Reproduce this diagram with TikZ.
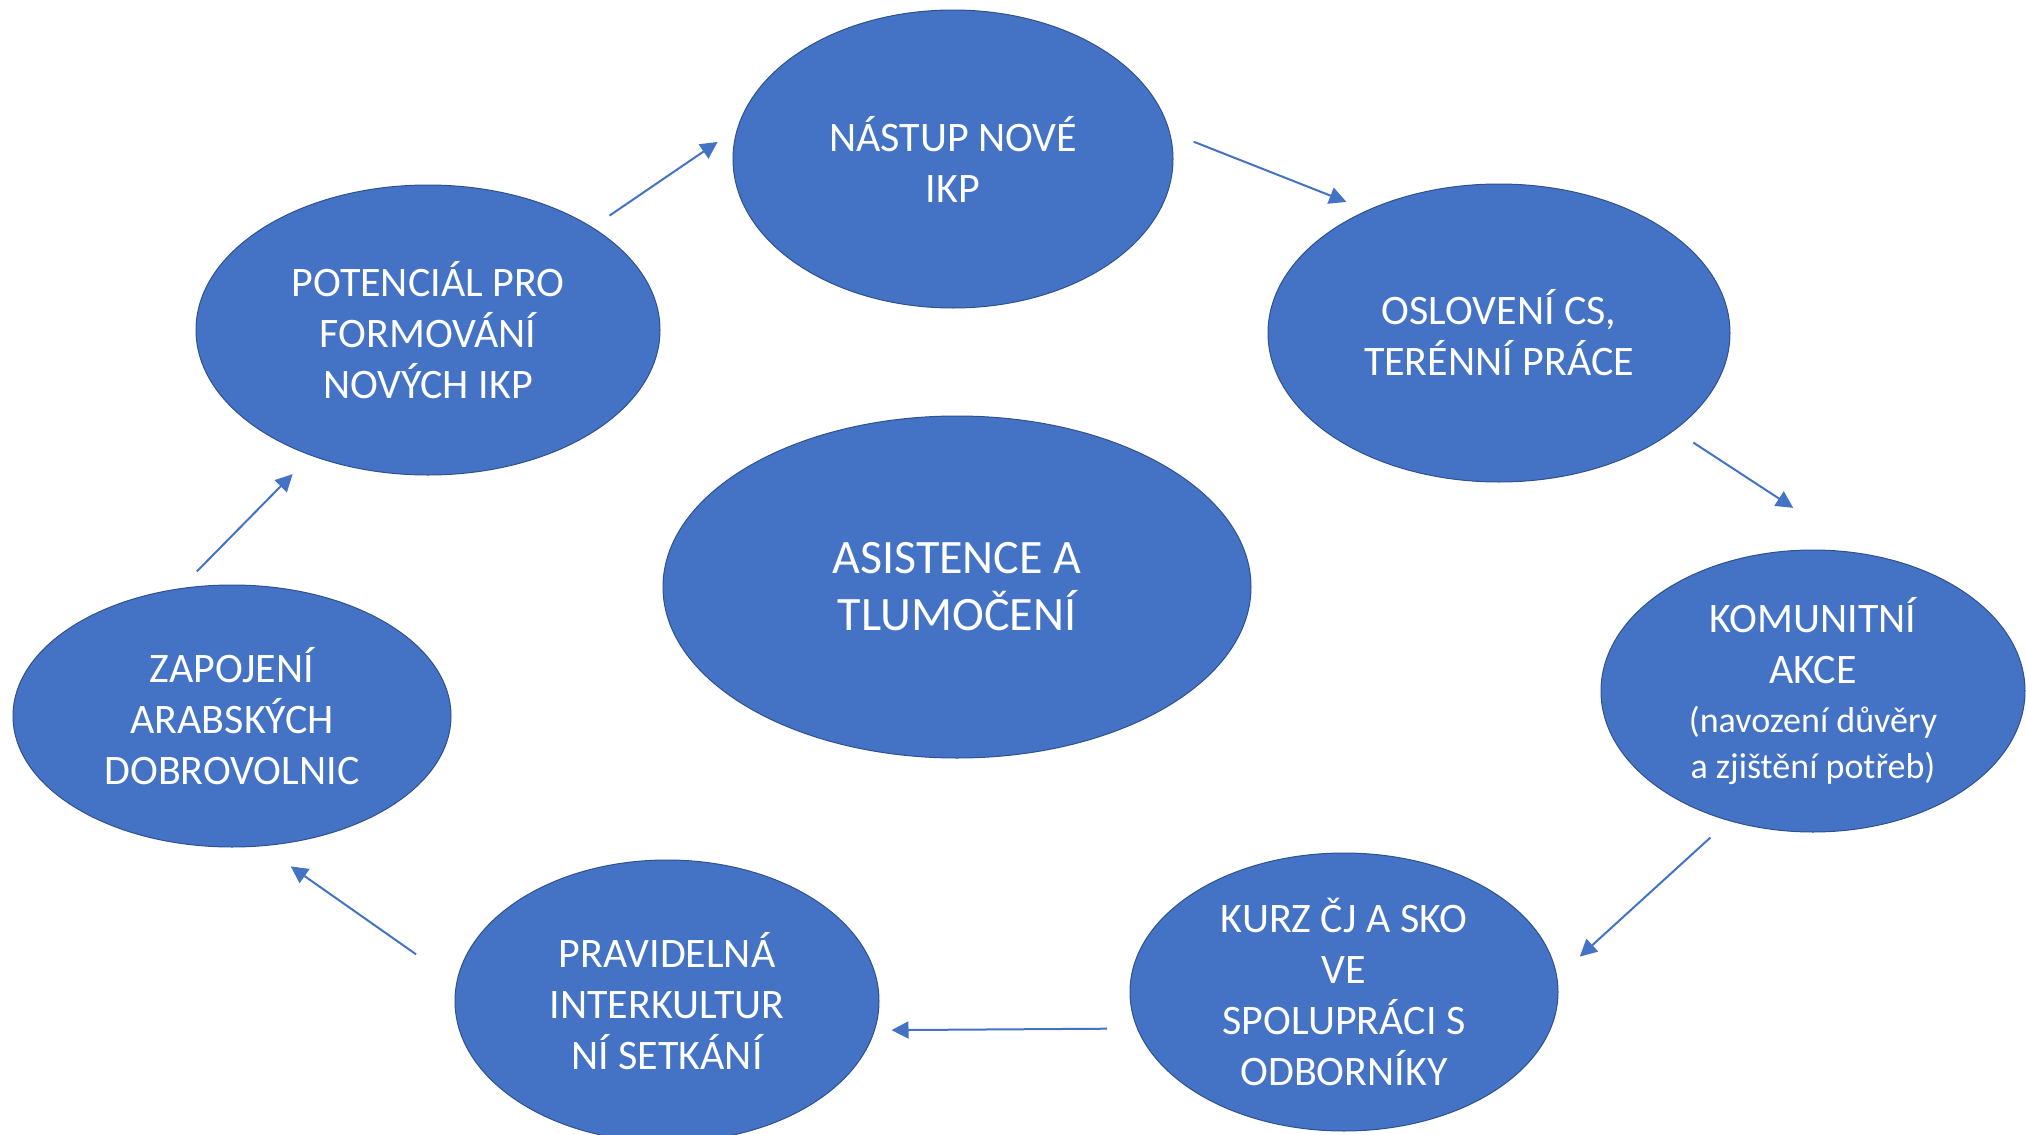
\documentclass[tikz,border=0pt]{standalone}
\usepackage{fontspec}
\setmainfont{Carlito}
\usetikzlibrary{shapes.geometric}
\usetikzlibrary{arrows.meta}
\definecolor{ikpblue}{RGB}{68,114,196}
\definecolor{ikpedge}{RGB}{47,82,143}

\begin{document}
\begin{tikzpicture}[x=0.5pt,y=0.5pt,yscale=-1,xscale=1,
  stage/.style={ellipse,fill=ikpblue,draw=ikpedge,line width=0.5pt,inner sep=0pt,text=white,align=center,font=\fontsize{21}{25.5}\selectfont},
  flow/.style={draw=ikpblue,line width=1pt,-{Triangle[length=8.5pt,width=8.5pt]}}]
\useasboundingbox (0,0) rectangle (2026,1135);

% Ellipse Node
\node [stage,minimum width=220pt,minimum height=149pt] (nastup) at (953,159) {NÁSTUP NOVÉ\\IKP};
% Ellipse Node
\node [stage,minimum width=231pt,minimum height=149pt] (osloveni) at (1499,333) {OSLOVENÍ CS,\\TERÉNNÍ PRÁCE};
% Ellipse Node
\node [stage,minimum width=212pt,minimum height=141pt] (komunit) at (1813,691) {KOMUNITNÍ\\AKCE\\[-1pt]{\fontsize{18}{22}\selectfont (navození důvěry}\\[-2.5pt]{\fontsize{18}{22}\selectfont a zjištění potřeb)}};
% Ellipse Node
\node [stage,minimum width=214pt,minimum height=139pt] (kurz) at (1344,992) {KURZ ČJ A SKO\\VE\\SPOLUPRÁCI S\\ODBORNÍKY};
% Ellipse Node
\node [stage,minimum width=212pt,minimum height=141pt] (pravid) at (667,1001) {PRAVIDELNÁ\\INTERKULTUR\\NÍ SETKÁNÍ};
% Ellipse Node
\node [stage,minimum width=219pt,minimum height=131pt] (zapojeni) at (232,716) {ZAPOJENÍ\\ARABSKÝCH\\DOBROVOLNIC};
% Ellipse Node
\node [stage,minimum width=232pt,minimum height=145pt] (potencial) at (428,330) {POTENCIÁL PRO\\FORMOVÁNÍ\\NOVÝCH IKP};
% Ellipse Node
\node [stage,minimum width=294pt,minimum height=171pt,font=\fontsize{24}{28.5}\selectfont] (asistence) at (957,587) {ASISTENCE A\\TLUMOČENÍ};

% Connection
\draw [flow,shorten <=10.3pt,shorten >=11.8pt] (potencial.32.7) -- (nastup.172.1);
% Connection
\draw [flow,shorten <=12.8pt,shorten >=11.2pt] (nastup.7) -- (osloveni.137.6);
% Connection
\draw [flow,shorten <=11.1pt,shorten >=41.7pt] (osloveni.331.1) -- (komunit.70.1);
% Connection
\draw [flow,shorten <=12.4pt,shorten >=15.2pt] (komunit.237.1) -- (kurz.4.2);
% Connection
\draw [flow,shorten <=14.9pt,shorten >=8.3pt] (kurz.190.2) -- (pravid.352.9);
% Connection
\draw [flow,shorten <=24.6pt,shorten >=17.5pt] (pravid.175) -- (zapojeni.283.7);
% Connection
\draw [flow,shorten <=11.7pt,shorten >=13pt] (zapojeni.112) -- (potencial.227.3);

\end{tikzpicture}
\end{document}
